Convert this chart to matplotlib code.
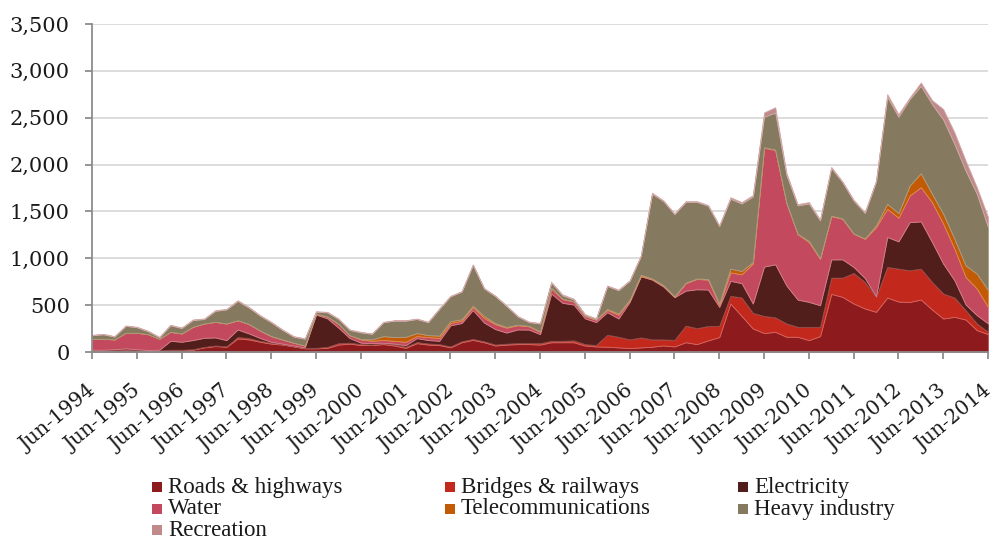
import numpy as np
import matplotlib
matplotlib.use("Agg")
from matplotlib import pyplot as plt
from matplotlib.patches import Rectangle
from matplotlib.ticker import FuncFormatter
from matplotlib.transforms import ScaledTranslation

# quarterly values, Jun-1994 .. Jun-2014
roads = [15,15,20,25,20,15,15,20,20,25, 50,64,57,145,135,110,90,80,60,40,
         40,45,80,90,75,75,85,70,45,95, 80,75,50,105,130,105,70,80,85,85,
         80,105,105,105,70,60,57,50,43,50, 57,71,60,105,85,125,160,518,385,252,
         203,216,163,163,128,170,620,589,518,465, 429,582,539,535,560,454,358,376,347,234,
         191]
bridges = [3,3,2,3,2,3,3,5,5,5, 5,6,5,15,15,10,10,5,5,5,
           5,10,15,10,10,5,10,10,12,12, 12,10,10,10,10,10,10,10,10,10,
           15,15,15,20,15,15,128,113,92,106, 78,64,70,177,170,153,120,82,197,166,
           182,154,142,106,141,99,174,205,326,283, 160,326,351,337,330,294,266,206,100,71,
           25]
electricity = [7,7,8,12,8,4,7,95,85,98, 97,86,66,81,49,30,10,5,5,5,
               355,305,165,50,15,15,5,10,17,42, 36,35,225,195,308,200,165,118,146,145,
               96,504,405,382,275,245,240,195,400,652, 638,565,455,373,415,389,202,160,153,100,
               527,566,405,291,266,231,194,195,64,42, 7,319,291,514,504,426,319,184,60,89,
               89]
water = [117,117,105,166,176,169,117,96,89,142, 153,167,177,99,101,80,60,45,30,20,
         10,20,40,30,35,25,30,30,36,22, 32,30,25,25,32,50,53,52,46,35,
         25,53,40,33,25,25,25,40,18,7, 7,10,5,80,110,106,23,90,95,427,
         1268,1220,880,698,640,496,462,433,354,419, 737,301,252,284,365,425,426,337,294,283,
         177]
telecom = [0,0,0,0,0,0,0,0,0,0, 0,0,0,0,0,0,0,0,0,0,
           0,0,0,0,5,15,40,40,53,32, 21,25,20,15,14,20,10,8,5,5,
           4,8,5,3,3,3,10,12,7,10, 5,5,5,5,5,7,15,40,35,15,
           5,4,2,4,10,4,5,3,3,3, 18,54,49,107,149,89,106,106,124,160,
           178]
heavy = [38,48,30,74,59,31,16,69,58,72, 47,117,150,205,175,158,147,101,65,72,
         20,44,53,56,70,60,148,175,172,150, 137,285,265,295,436,293,289,224,88,40,
         85,57,35,19,12,7,245,250,200,200, 905,897,877,862,817,782,825,745,720,700,
         325,395,298,303,400,405,510,387,350,273, 469,1141,1029,922,932,957,1005,1011,1011,851,
         673]
recreation = [4,5,5,4,5,5,5,6,5,6, 6,7,6,8,7,6,6,5,5,5,
              6,5,5,5,6,4,5,5,5,5, 6,6,5,5,5,5,5,5,5,6,
              5,6,10,8,5,5,5,7,6,7, 10,8,8,8,8,8,6,17,15,15,
              47,57,20,13,15,10,10,8,9,8, 10,29,28,17,36,43,112,124,106,71,
              107]

names = ["Roads & highways", "Bridges & railways", "Electricity", "Water",
         "Telecommunications", "Heavy industry", "Recreation"]
colors = ["#8d1a1d", "#c3281d", "#521e1c", "#c34a5e", "#c25a06", "#857a5f", "#c0898a"]
edges = ["#b8545a", "#d9655c", "#8a4a46", "#d9808f", "#e08a40", "#a89e86", "#d4a9a9"]

years = [1994, 1995, 1996, 1997, 1998, 1999, 2000, 2001, 2002, 2003, 2004,
         2005, 2006, 2007, 2008, 2009, 2010, 2011, 2012, 2013, 2014]
tick_labels = ["Jun-%d" % y for y in years]

x = np.arange(len(roads))

fig = plt.figure(figsize=(9.94, 5.40), dpi=100)
ax = fig.add_axes([0.0926, 0.348, 0.9014, 0.6076])

polys = ax.stackplot(x, roads, bridges, electricity, water, telecom, heavy, recreation,
                     colors=colors, linewidth=0.6, zorder=2)
for p, ec in zip(polys, edges):
    p.set_edgecolor(ec)

ax.set_xlim(0, len(roads) - 1)
ax.set_ylim(0, 3500)
ax.set_yticks(np.arange(0, 3501, 500))
ax.yaxis.set_major_formatter(FuncFormatter(lambda v, p: "{:,.0f}".format(v)))
ax.set_xticks(np.arange(0, len(roads), 4))
ax.set_xticklabels(tick_labels, rotation=40, ha="right", va="top",
                   rotation_mode="anchor")

ax.grid(axis="y", color="#d9d9d9", linewidth=1.3, zorder=0)
ax.set_axisbelow(True)
for s in ["top", "right"]:
    ax.spines[s].set_visible(False)
for s in ["left", "bottom"]:
    ax.spines[s].set_color("#8c8c8c")
    ax.spines[s].set_linewidth(1.3)
    ax.spines[s].set_zorder(3)
ax.tick_params(axis="both", colors="#8c8c8c", length=5, width=1.3,
               labelcolor="#1a1a1a")
ax.tick_params(axis="y", labelsize=15, pad=11)
ax.tick_params(axis="x", labelsize=14.5, pad=0)
shift = ScaledTranslation(-5 / 100, -22 / 100, fig.dpi_scale_trans)
for lab in ax.get_xticklabels():
    lab.set_family("DejaVu Serif")
    lab.set_transform(lab.get_transform() + shift)
for lab in ax.get_yticklabels():
    lab.set_family("DejaVu Serif")

# legend laid out as in the reference: 3 columns, filled row by row
W, H = 994.0, 540.0
col_x = [152, 445, 738]
row_y = [487, 509, 530]
for k, (name, c) in enumerate(zip(names, colors)):
    cx = col_x[k % 3]
    cy = row_y[k // 3]
    fig.patches.append(Rectangle((cx / W, 1 - (cy + 5) / H), 10 / W, 10 / H,
                                 facecolor=c, edgecolor="none",
                                 transform=fig.transFigure, figure=fig))
    fig.text((cx + 16) / W, 1 - cy / H, name, ha="left", va="center",
             family="Liberation Serif", fontsize=16.5, color="#1a1a1a")

plt.savefig("out.png", dpi=100)
plt.close()
